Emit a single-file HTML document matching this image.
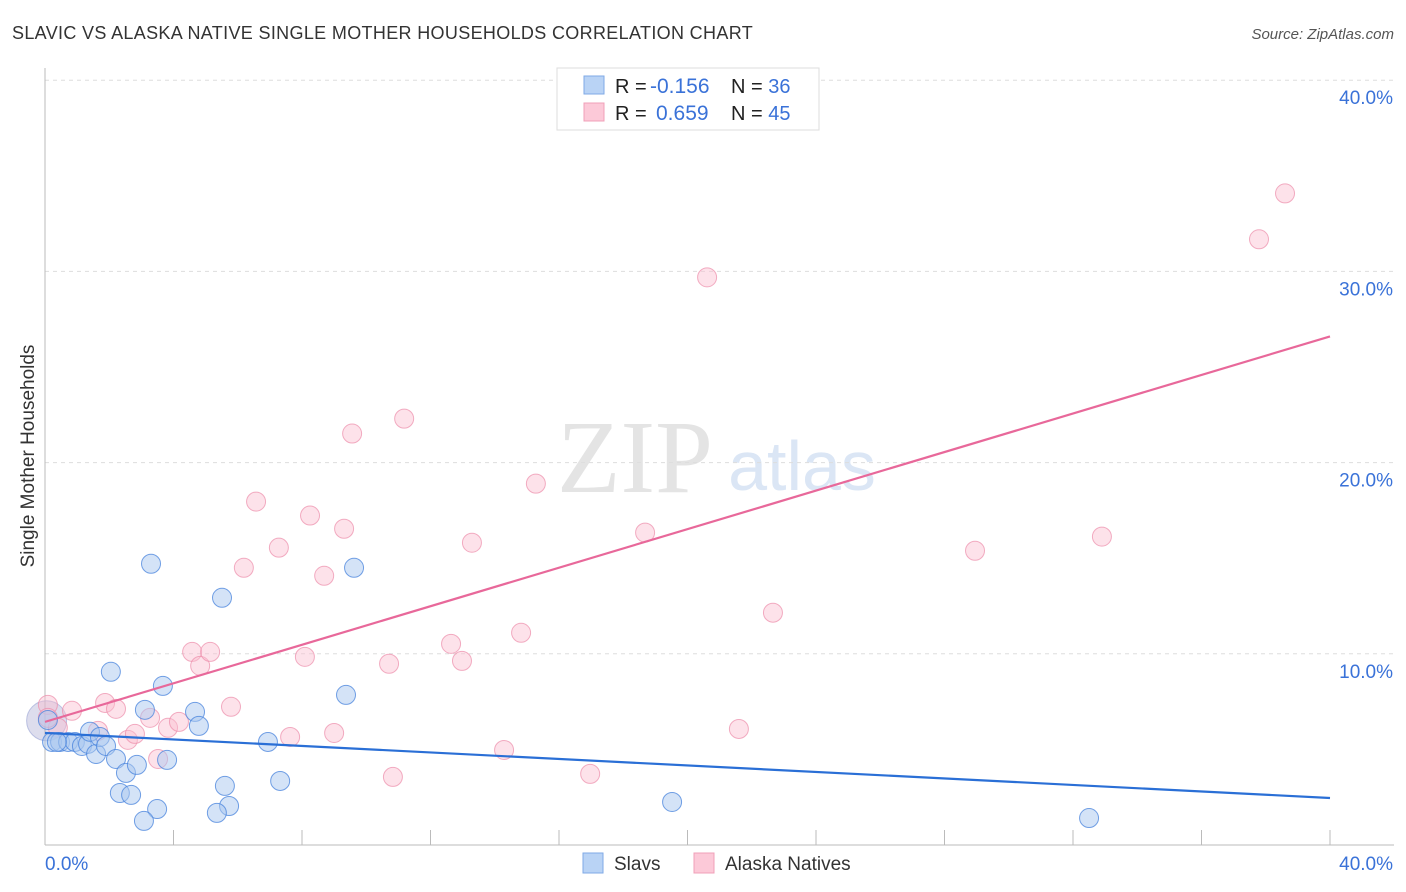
<!DOCTYPE html>
<html><head><meta charset="utf-8"><style>
body{margin:0;background:#fff;font-family:"Liberation Sans",sans-serif}
svg{display:block}
</style></head><body>
<svg id="c" width="1406" height="892" xmlns="http://www.w3.org/2000/svg">
<text x="12" y="39" font-size="18" fill="#333" letter-spacing="0.3" textLength="741">SLAVIC VS ALASKA NATIVE SINGLE MOTHER HOUSEHOLDS CORRELATION CHART</text>
<text x="1394" y="39" font-size="15" fill="#555" font-style="italic" text-anchor="end">Source: ZipAtlas.com</text>
<text transform="translate(34,456) rotate(-90)" font-size="19" fill="#333" text-anchor="middle">Single Mother Households</text>
<g><text x="635" y="492" font-size="104" fill="#e4e4e4" font-family="Liberation Serif,serif" text-anchor="middle">ZIP</text><text x="802" y="490" font-size="70" fill="#dbe6f5" text-anchor="middle">atlas</text></g>
<g id="grid"></g><g id="axes"></g><g id="marks"></g>
<g>
<rect x="557" y="68" width="262" height="62" fill="#fff" stroke="#ddd"/>
<rect x="584" y="76" width="20" height="18" fill="#b9d3f5" stroke="#7fa9e6"/>
<rect x="584" y="103" width="20" height="18" fill="#fcc9d8" stroke="#f0a0b8"/>
<text x="615" y="93" font-size="20" fill="#222">R =</text><text x="650" y="93" font-size="21" fill="#3a72d8">-0.156</text>
<text x="731" y="93" font-size="20" fill="#222">N = <tspan fill="#3a72d8">36</tspan></text>
<text x="615" y="120" font-size="20" fill="#222">R =</text><text x="656" y="120" font-size="21" fill="#3a72d8">0.659</text>
<text x="731" y="120" font-size="20" fill="#222">N = <tspan fill="#3a72d8">45</tspan></text>
</g>
<g>
<rect x="583" y="853" width="20" height="20" fill="#b9d3f5" stroke="#7fa9e6"/>
<text x="614" y="870" font-size="19" fill="#333">Slavs</text>
<rect x="694" y="853" width="20" height="20" fill="#fcc9d8" stroke="#f0a0b8"/>
<text x="725" y="870" font-size="19" fill="#333">Alaska Natives</text>
</g>
</svg>
<script>
const xTicks=[0,40];
const yTicks=[10,20,30,40];
const slavX=[0.22,0.47,0.72,0.93,1.15,1.34,1.59,1.40,1.71,1.90,2.21,2.52,2.33,2.68,2.86,3.11,3.30,3.49,3.08,3.67,3.80,4.67,4.79,5.51,5.60,5.73,5.35,6.94,7.32,9.37,9.62,19.52,32.5,2.05,0.09,0.37];
const slavY=[5.39,5.39,5.39,5.39,5.18,5.29,4.76,5.92,5.65,5.18,4.50,3.77,2.72,2.62,4.19,7.07,14.71,1.88,1.26,8.32,4.45,6.96,6.23,12.93,3.09,2.04,1.68,5.39,3.35,7.85,14.50,2.25,1.41,9.06,6.54,5.39];
const akX=[0.09,0.40,0.84,1.65,1.87,2.21,2.58,2.80,3.27,3.52,3.83,4.17,4.58,4.83,5.14,5.79,6.19,6.57,7.28,7.63,8.09,8.25,8.69,9.00,9.31,9.56,10.71,10.83,11.18,12.64,12.98,13.29,14.29,14.82,15.28,16.97,18.68,20.61,21.60,22.66,28.95,32.9,37.79,38.60,0.09];
const akY=[7.33,6.13,7.02,5.97,7.43,7.12,5.50,5.81,6.65,4.50,6.13,6.44,10.10,9.37,10.10,7.23,14.50,17.96,15.55,5.65,9.84,17.23,14.08,5.86,16.54,21.52,9.48,3.56,22.30,10.52,9.63,15.81,4.97,11.10,18.90,3.72,16.34,29.69,6.07,12.15,15.39,16.13,31.68,34.08,6.65];
const slavLine=[5.86,2.46];
const akLine=[6.44,26.6];
const X=v=>45+v/40*1285, Y=v=>845-v*19.12;
const NS="http://www.w3.org/2000/svg";
function mk(t,a,p){const e=document.createElementNS(NS,t);for(const k in a)e.setAttribute(k,a[k]);document.getElementById(p).appendChild(e);return e;}
yTicks.forEach(t=>{
 const g=mk('line',{x1:45,x2:1394,y1:Y(t),y2:Y(t),stroke:'#ddd','stroke-dasharray':'4,4'},'grid');
 
 
 const l=mk('text',{x:1393,y:Y(t)+24,'font-size':19,fill:'#3a72d8','text-anchor':'end'},'axes');l.textContent=t.toFixed(1)+'%';
 
 
});
mk('line',{x1:45,x2:45,y1:68,y2:845,stroke:'#bbb'},'axes');
mk('line',{x1:45,x2:1394,y1:845,y2:845,stroke:'#bbb'},'axes');
for(let i=0;i<=10;i++){const tk=mk('line',{x1:X(i*4),x2:X(i*4),y1:830,y2:845,stroke:'#bbb'},'axes');
 
 }
xTicks.forEach((t,i)=>{const l=mk('text',{x:i?1393:45,y:870,'font-size':19,fill:'#3a72d8','text-anchor':i?'end':'start'},'axes');l.textContent=t.toFixed(1)+'%';
 
 });
const big=mk('circle',{cx:X(0.05),cy:Y(6.5),r:20,fill:'rgba(170,170,210,0.4)',stroke:'rgba(150,160,210,0.6)'},'marks');


akX.forEach((v,i)=>{const c=mk('circle',{cx:X(v),cy:Y(akY[i]),r:9.5,fill:'rgba(250,190,208,0.45)',stroke:'rgba(236,140,170,0.7)'},'marks');
 
 });
slavX.forEach((v,i)=>{const c=mk('circle',{cx:X(v),cy:Y(slavY[i]),r:9.5,fill:'rgba(170,200,240,0.5)',stroke:'rgba(70,130,220,0.75)'},'marks');
 
 });
const l1=mk('line',{x1:X(0),x2:X(40),y1:Y(slavLine[0]),y2:Y(slavLine[1]),stroke:'#2a6fd6','stroke-width':2.2},'marks');


const l2=mk('line',{x1:X(0),x2:X(40),y1:Y(akLine[0]),y2:Y(akLine[1]),stroke:'#e8689a','stroke-width':2.2},'marks');


</script>
</body></html>
